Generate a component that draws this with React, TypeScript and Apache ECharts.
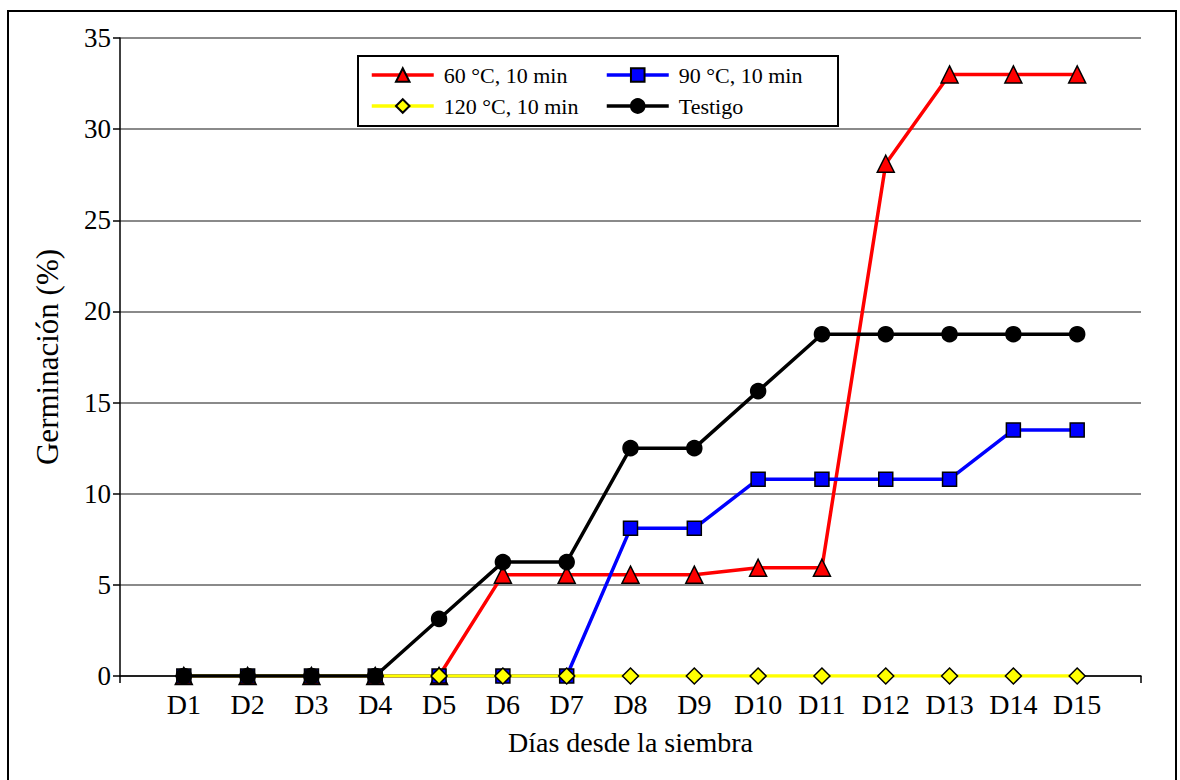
import React, { useEffect, useRef } from "react";
import * as echarts from "echarts";

// Días de observación
const days = ["D1", "D2", "D3", "D4", "D5", "D6", "D7", "D8", "D9", "D10", "D11", "D12", "D13", "D14", "D15"];

// Germinación acumulada (%) por tratamiento
const t60 = [0, 0, 0, 0, 0, 5.56, 5.56, 5.56, 5.56, 5.94, 5.94, 28.1, 33.0, 33.0, 33.0];
const t90 = [0, 0, 0, 0, 0, 0, 0, 8.1, 8.1, 10.8, 10.8, 10.8, 10.8, 13.5, 13.5];
const t120 = [0, 0, 0, 0, 0, 0, 0, 0, 0, 0, 0, 0, 0, 0, 0];
const testigo = [0, 0, 0, 0, 3.13, 6.25, 6.25, 12.5, 12.5, 15.63, 18.75, 18.75, 18.75, 18.75, 18.75];

const seriesNames = ["60 °C, 10 min", "90 °C, 10 min", "120 °C, 10 min", "Testigo"];
const yTicks = [0, 5, 10, 15, 20, 25, 30, 35];

const FONT = "'Liberation Serif', 'Times New Roman', serif";

// Empty slots at both ends so the days sit inside the axis span
const axisCats = ["", ...days, ""];
const pad = (arr: number[]) => [null, ...arr, null];

export default function App() {
  const ref = useRef<HTMLDivElement>(null);

  useEffect(() => {
    if (!ref.current) return;
    const chart = echarts.init(ref.current, null, { renderer: "svg" });

    const mk = (
      name: string,
      data: number[],
      color: string,
      symbol: string,
      size: number
    ) => ({
      name,
      type: "line",
      data: pad(data),
      symbol,
      symbolSize: size,
      showAllSymbol: true,
      connectNulls: false,
      lineStyle: { color, width: 3.5 },
      itemStyle: { color, borderColor: "#000", borderWidth: 1.5 },
      emphasis: { disabled: true },
    });

    const legendCommon = {
      orient: "vertical",
      itemWidth: 62,
      itemHeight: 17,
      itemGap: 9,
      selectedMode: false,
      lineStyle: { width: 3.5 },
      textStyle: {
        fontFamily: FONT,
        fontSize: 22,
        color: "#000",
        padding: [0, 0, 0, 5],
      },
      z: 10,
    };

    chart.setOption({
      animation: false,
      backgroundColor: "#fff",
      textStyle: { fontFamily: FONT },
      grid: { left: 120, right: 39, top: 38, bottom: 104, containLabel: false },
      legend: [
        { ...legendCommon, left: 365, top: 59, data: [seriesNames[0], seriesNames[2]] },
        { ...legendCommon, left: 600, top: 59, data: [seriesNames[1], seriesNames[3]] },
      ],
      graphic: [
        {
          type: "rect",
          shape: { x: 8, y: 11, width: 1168, height: 800 },
          style: { fill: "none", stroke: "#000", lineWidth: 2 },
          silent: true,
          z: 0,
        },
        {
          type: "rect",
          shape: { x: 358, y: 56, width: 480, height: 70 },
          style: { fill: "#fff", stroke: "#000", lineWidth: 2 },
          silent: true,
          z: 5,
        },
      ],
      xAxis: {
        type: "category",
        data: axisCats,
        boundaryGap: false,
        name: "Días desde la siembra",
        nameLocation: "middle",
        nameGap: 52,
        nameTextStyle: { fontFamily: FONT, fontSize: 28, color: "#000" },
        axisLine: { lineStyle: { color: "#000", width: 1.5 } },
        axisTick: {
          show: true,
          length: 7,
          interval: (i: number) => i === 0 || i === axisCats.length - 1,
          lineStyle: { color: "#000", width: 1.5 },
        },
        axisLabel: {
          interval: 0,
          margin: 14,
          fontFamily: FONT,
          fontSize: 28,
          color: "#000",
        },
        splitLine: { show: false },
      },
      yAxis: {
        type: "value",
        min: yTicks[0],
        max: yTicks[yTicks.length - 1],
        interval: 5,
        name: "Germinación (%)",
        nameLocation: "middle",
        nameGap: 57,
        nameTextStyle: { fontFamily: FONT, fontSize: 31, color: "#000" },
        axisLine: { show: true, lineStyle: { color: "#000", width: 1.5 } },
        axisTick: { show: true, length: 7, lineStyle: { color: "#000", width: 1.5 } },
        axisLabel: { margin: 9, fontFamily: FONT, fontSize: 27, color: "#000" },
        splitLine: { show: true, lineStyle: { color: "#8a8a8a", width: 2 } },
      },
      series: [
        mk(seriesNames[0], t60, "#ff0000", "triangle", 17),
        mk(seriesNames[1], t90, "#0000ff", "rect", 14),
        mk(seriesNames[2], t120, "#ffff00", "diamond", 16),
        mk(seriesNames[3], testigo, "#000000", "circle", 15),
      ],
    });

    return () => chart.dispose();
  }, []);

  return (
    <div
      ref={ref}
      style={{ position: "absolute", left: 0, top: 0, width: 1180, height: 780, background: "#fff" }}
    />
  );
}
